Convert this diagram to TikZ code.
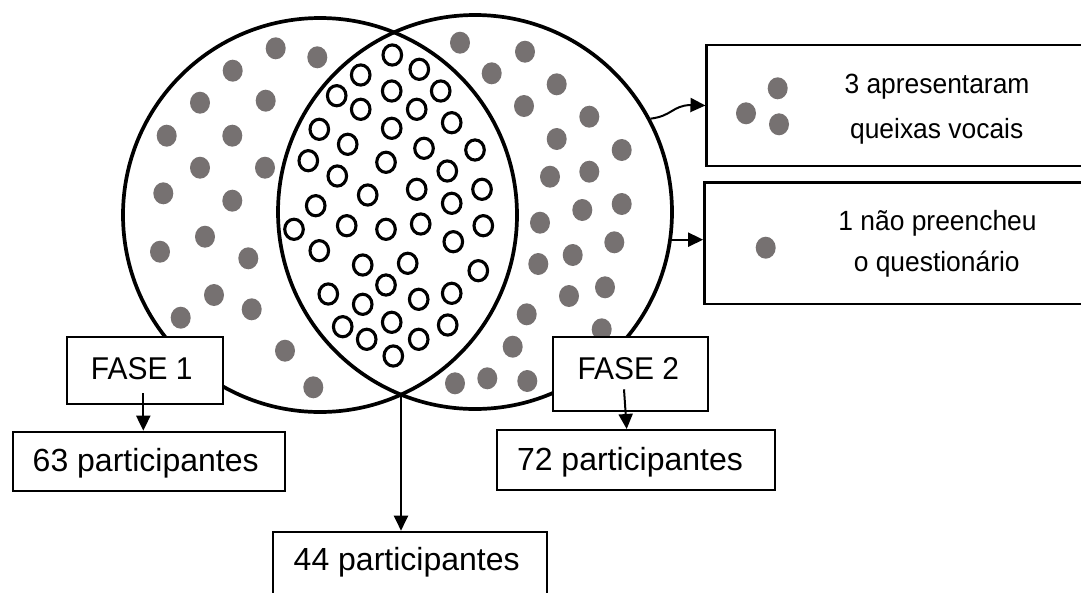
\documentclass[tikz,border=0pt]{standalone}
\usepackage{fontspec}
\setmainfont{Liberation Sans}
\newfontfamily\narrowsans[FakeStretch=0.95]{Liberation Sans}
\usetikzlibrary{arrows.meta}
\definecolor{dotgray}{RGB}{118,113,113}
\begin{document}
\begin{tikzpicture}[x=1pt,y=-1pt,
  venn/.style={circle, draw, line width=3.7pt, minimum size=394pt, inner sep=0pt},
  ring/.style={draw, line width=3.1pt},
  lbox/.style={draw, fill=white, rectangle, inner sep=0pt, line width=2pt},
  rbox/.style={draw, fill=white, rectangle, inner sep=0pt, line width=2.4pt},
  arr/.style={line width=2pt, -{Triangle[length=15pt,width=14pt]}},
  bigtxt/.style={font=\fontsize{32}{38}\selectfont, anchor=base, inner sep=0pt},
  fasetxt/.style={font=\narrowsans\fontsize{31.5}{36}\selectfont, anchor=base, inner sep=0pt},
  smalltxt/.style={font=\narrowsans\fontsize{27.8}{32}\selectfont, anchor=base, inner sep=0pt},
]
\useasboundingbox (0,0) rectangle (1081,592);

% grey dots (left only)
\foreach \x/\y in {275.7/48.3, 317.3/57.3, 232.7/70.7, 200/102.7, 265.7/100.7,
  166.7/135.7, 232.3/135.7, 200/167.7, 265/167.7, 163.3/193.3, 232.3/200.7,
  205/236.7, 160/251.7, 248.3/258.3, 214/295, 251.7/309.3, 180.7/317.7,
  285/350.7, 313.3/387.3}
  \fill[dotgray] (\x,\y) ellipse [x radius=10pt, y radius=11pt];

% grey dots (right only)
\foreach \x/\y in {460/42.7, 525/51.7, 491.7/73.3, 556.7/84.3, 524/106,
  589.3/116.7, 556.7/139, 621.7/150, 550/176.7, 589.3/171.7, 621.7/204,
  582.3/210, 540/222.7, 614.3/242.3, 572.7/255, 538.3/264, 605/287.3,
  569/296, 526.7/314.3, 601.7/329.3, 512.7/346.7, 455/383.3, 487.3/378.3,
  527.3/381}
  \fill[dotgray] (\x,\y) ellipse [x radius=10pt, y radius=11pt];

% open circles (intersection)
\foreach \x/\y in {392.3/55, 360.7/75, 419.3/69.3, 336.7/95.7, 391.7/91,
  440.7/91, 360.7/109.3, 416.7/109.3, 319.3/129.3, 391.7/128.3, 451.7/122.7,
  347.7/144.3, 424/148.3, 475/150, 308.3/160.7, 386/162.3, 447.3/171,
  337.3/176, 367.7/195, 416.7/189.3, 482/189.3, 451.7/203.3, 315.7/205.7,
  294/229.3, 346.7/225.7, 386/229.3, 420.7/224, 483.3/225.7, 453.3/241.7,
  319.3/250.7, 362.7/265, 407.7/263.3, 478.3/270.7, 386/285, 328.3/294,
  451.7/293.3, 418.7/299.3, 362.7/304.3, 391.7/322.3, 447.7/325,
  342.7/326.7, 366.7/339.3, 418.7/339.3, 393.3/356}
  \draw[ring] (\x,\y) ellipse [x radius=9.3pt, y radius=10.1pt];

% Venn circles
\node[venn] (L) at (320,215) {};
\node[venn] (R) at (475,212) {};
\coordinate (ib) at (401,394.6);

% right boxes
\node[rbox, minimum width=383.3pt, minimum height=121pt] (b3) at (898.3,105.5) {};
\node[rbox, minimum width=385.7pt, minimum height=121.3pt] (b1) at (897.2,243.3) {};
\foreach \x/\y in {777.7/88.3, 746/113.3, 779/124.3, 765.7/247.7}
  \fill[dotgray] (\x,\y) ellipse [x radius=10pt, y radius=11pt];
\node[smalltxt] (t3a) at (937,93.3) {3 apresentaram};
\node[smalltxt] (t3b) at (936.7,138.3) {queixas vocais};
\node[smalltxt] (t1a) at (937.5,230) {1 não preencheu};
\node[smalltxt] (t1b) at (936.7,271.7) {o questionário};

% lower boxes
\node[lbox, minimum width=156pt, minimum height=66.7pt] (f1) at (144.7,370.7) {};
\node[fasetxt] (f1t) at (141.7,379.5) {FASE 1};
\node[lbox, minimum width=154.4pt, minimum height=73.4pt] (f2) at (630.5,374) {};
\node[fasetxt] (f2t) at (628.3,379.3) {FASE 2};
\node[lbox, minimum width=272.3pt, minimum height=59pt] (p63) at (148.9,461.2) {};
\node[bigtxt] (p63t) at (145.7,471.7) {63 participantes};
\node[lbox, minimum width=277.7pt, minimum height=60pt] (p72) at (636.2,460) {};
\node[bigtxt] (p72t) at (630,470) {72 participantes};
\node[lbox, minimum width=274.6pt, minimum height=70pt] (p44) at (410,566.7) {};
\node[bigtxt] (p44t) at (406.7,570.7) {44 participantes};

% connectors
\coordinate (f1s) at (143.3,393);
\coordinate (f2s) at (624,389.3);
\draw[arr] (f1s) -- (f1s |- p63.north);
\draw[arr] (f2s) -- (626.7,0 |- p72.north);
\draw[arr] (ib) -- (ib |- p44.north);
\draw[arr] (R.28.7) .. controls (672,116) and (672,106) .. (690,105) -- (b3.west);
\draw[arr] (R.-8.2) -- (R.-8.2 -| b1.west);
\end{tikzpicture}
\end{document}
